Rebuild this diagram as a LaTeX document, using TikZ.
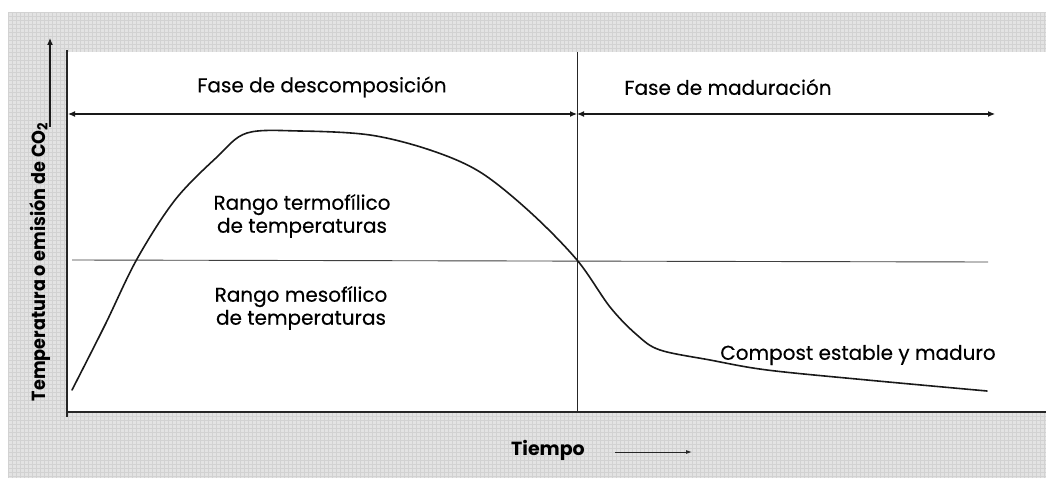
\documentclass[tikz,border=0pt]{standalone}
\usepackage{fontspec}
\setmainfont{Poppins}
\newfontfamily\futlike{Poppins}[FakeBold=0.3]
\usetikzlibrary{arrows.meta}
\begin{document}
\begin{tikzpicture}[x=1pt,y=-1pt,
  lbl/.style={font=\futlike\fontsize{20}{23}\selectfont, inner sep=0pt, align=center},
  boldlbl/.style={font=\fontsize{19}{23}\selectfont\bfseries, inner sep=0pt},
  ln/.style={line width=0.9pt, black!85},
  axisln/.style={line width=1.2pt, black!85},
  tip/.style={line width=1.1pt, black!90, -{Latex[length=7pt,width=6pt]}},
  dtip/.style={line width=1.1pt, black!90, {Latex[length=7pt,width=6pt]}-{Latex[length=7pt,width=6pt]}},
  curve/.style={line width=1.6pt, black!90, line cap=round}]
\useasboundingbox (0,0) rectangle (1046,481);
\fill[white] (0,0) rectangle (1046,481);
% scanned paper background
\fill[gray!22] (8,12) rectangle (1046,478);
\draw[gray!35, line width=0.3pt, step=4pt] (8,12) grid (1046,478);
\fill[white] (67,52) rectangle (1046,412);

% frame coordinates
\coordinate (ytop) at (67,50);
\coordinate (origin) at (67,417);
\coordinate (xend) at (1046,412);
\coordinate (divtop) at (577,52);
\coordinate (divbot) at (577,412);
\coordinate (hl) at (72,260);
\coordinate (hr) at (988,262);
\coordinate (a1l) at (68,114);
\coordinate (a1r) at (577,114);
\coordinate (a2l) at (577,114);
\coordinate (a2r) at (995,114);
\coordinate (yab) at (50,127);
\coordinate (yat) at (50,38);

% axes and dividers
\draw[axisln] (ytop) -- (origin);
\draw[axisln] (67,412) -- (xend);
\draw[ln] (divtop) -- (divbot);
\draw[ln, black!75] (hl) -- (hr);
\draw[tip] (yab) -- (yat);

% phase arrows
\draw[dtip] (a1l) -- (a1r);
\draw[dtip] (a2l) -- (a2r);

% curve
\draw[curve] plot[smooth, tension=0.55] coordinates {
 (72,390) (105,325) (137,259) (175,200) (217,157) (247,133) (300,131)
 (370,135) (430,150) (480,172) (530,212) (577,260) (610,307) (637,335)
 (660,350) (710,360) (767,370) (867,380) (987,391)};

% labels
\node[lbl] (fdesc) at (322,87) {Fase de descomposición};
\node[lbl] (fmad) at (728,87) {Fase de maduración};
\node[lbl] (termo) at (302,216) {Rango termofílico\\de temperaturas};
\node[lbl] (meso) at (301,308) {Rango mesofílico\\de temperaturas};
\node[lbl] (comp) at (858,355) {Compost estable y maduro};
\node[boldlbl] (tiempo) at (548,450) {Tiempo};
\coordinate (ta) at (615,452);
\coordinate (tb) at (692,452);
\draw[line width=0.9pt, black!85, -{Latex[length=6pt,width=4pt]}] (ta) -- (tb);
\node[boldlbl, rotate=90] (ylab) at (40,262) {\scalebox{0.93}[1]{Temperatura o emisión de CO\raisebox{-0.2ex}{\fontsize{14}{16}\selectfont 2}}};
\end{tikzpicture}
\end{document}
